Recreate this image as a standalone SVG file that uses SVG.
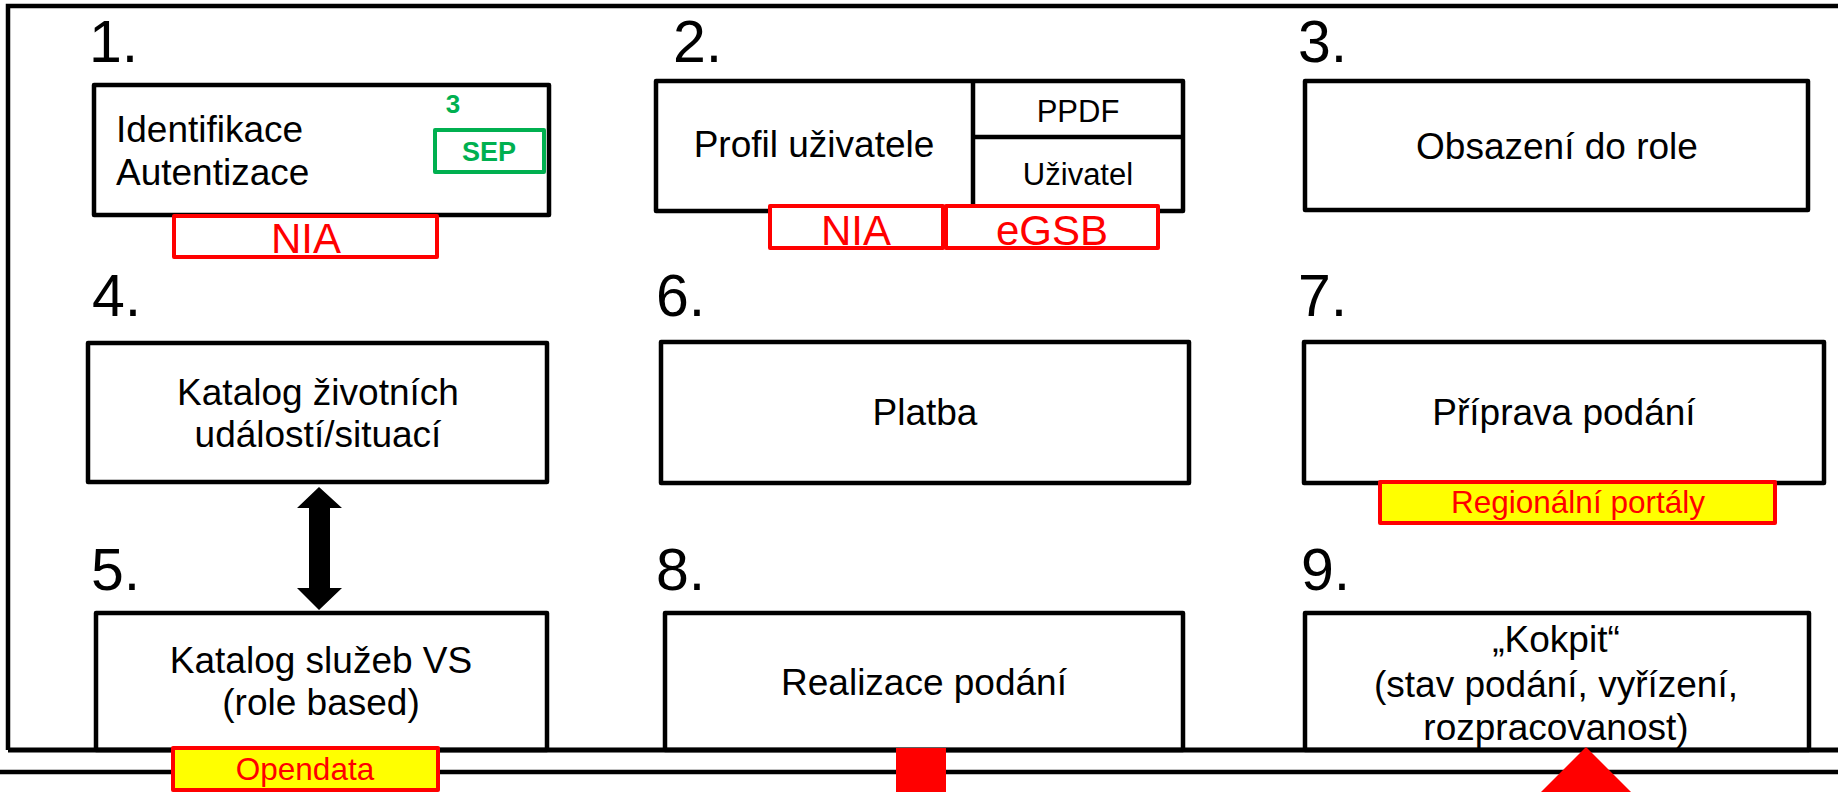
<svg xmlns="http://www.w3.org/2000/svg" width="1838" height="792" viewBox="0 0 1838 792">
<style>
text{font-family:"Liberation Sans",Arial,sans-serif;}
.box{fill:#fff;stroke:#000;stroke-width:4.5;stroke-linejoin:round;}
.ln{fill:none;stroke:#000;stroke-width:4.5;}
.lbl{font-size:37px;fill:#000;text-anchor:middle;}
.num{font-size:59px;fill:#000;}
.sub{font-size:31px;fill:#000;text-anchor:middle;}
.redbox{fill:#fff;stroke:#f00;stroke-width:4;stroke-linejoin:round;}
.yelbox{fill:#ff0;stroke:#f00;stroke-width:4;stroke-linejoin:round;}
.redtxt{font-size:42px;fill:#f00;text-anchor:middle;}
.redsm{font-size:31.5px;fill:#f00;text-anchor:middle;}
.green{fill:#00b050;font-weight:bold;text-anchor:middle;}
</style>
<rect width="1838" height="792" fill="#fff"/>
<g id="frame">
<path class="ln" d="M8,750 L8,6 L1838,6"/>
</g>
<g id="n1">
<text class="num" x="89" y="62">1.</text>
<rect class="box" x="94" y="85" width="455" height="130"/>
<text style="font-size:37px" x="116" y="142">Identifikace</text>
<text style="font-size:37px" x="116" y="185">Autentizace</text>
<text class="green" style="font-size:26px" x="453" y="113">3</text>
<rect x="435" y="130" width="109" height="42" fill="#fff" stroke="#00b050" stroke-width="4" stroke-linejoin="round"/>
<text class="green" style="font-size:27px" x="489" y="161">SEP</text>
<rect class="redbox" x="174" y="216" width="263" height="41"/>
<text class="redtxt" x="306" y="253">NIA</text>
</g>
<g id="n2">
<text class="num" x="673" y="62">2.</text>
<rect class="box" x="656" y="81" width="527" height="130"/>
<path class="ln" d="M973,81 L973,211 M973,137 L1183,137"/>
<text class="lbl" x="814" y="157">Profil uživatele</text>
<text class="sub" x="1078" y="122">PPDF</text>
<text class="sub" x="1078" y="185">Uživatel</text>
<rect class="redbox" x="770" y="206" width="173" height="42"/>
<text class="redtxt" x="856" y="245">NIA</text>
<rect class="redbox" x="946" y="206" width="212" height="42"/>
<text class="redtxt" x="1052" y="245">eGSB</text>
</g>
<g id="n3">
<text class="num" x="1298" y="62">3.</text>
<rect class="box" x="1305" y="81" width="503" height="129"/>
<text class="lbl" x="1557" y="159">Obsazení do role</text>
</g>
<g id="n4">
<text class="num" x="92" y="316">4.</text>
<rect class="box" x="88" y="343" width="459" height="139"/>
<text class="lbl" x="318" y="405">Katalog životních</text>
<text class="lbl" x="318" y="447">událostí/situací</text>
</g>
<g id="n6">
<text class="num" x="656" y="316">6.</text>
<rect class="box" x="661" y="342" width="528" height="141"/>
<text class="lbl" x="925" y="425">Platba</text>
</g>
<g id="n7">
<text class="num" x="1298" y="316">7.</text>
<rect class="box" x="1304" y="342" width="520" height="141"/>
<text class="lbl" x="1564" y="425">Příprava podání</text>
<rect class="yelbox" x="1380" y="482" width="395" height="41"/>
<text class="redsm" x="1578" y="513">Regionální portály</text>
</g>
<g id="n5">
<text class="num" x="91" y="590">5.</text>
<rect class="box" x="96" y="613" width="451" height="137"/>
<text class="lbl" x="321" y="673">Katalog služeb VS</text>
<text class="lbl" x="321" y="715">(role based)</text>
</g>
<g id="n8">
<text class="num" x="656" y="590">8.</text>
<rect class="box" x="665" y="613" width="518" height="137"/>
<text class="lbl" x="924" y="695">Realizace podání</text>
</g>
<g id="n9">
<text class="num" x="1301" y="590">9.</text>
<rect class="box" x="1305" y="613" width="504" height="137"/>
<text class="lbl" x="1556" y="652">„Kokpit“</text>
<text class="lbl" x="1556" y="697">(stav podání, vyřízení,</text>
<text class="lbl" x="1556" y="740">rozpracovanost)</text>
</g>
<g id="bus">
<line x1="8" y1="750" x2="1838" y2="750" stroke="#000" stroke-width="5"/>
<line x1="0" y1="772" x2="1838" y2="772" stroke="#000" stroke-width="4.5"/>
</g>
<g id="connectors">
<polygon points="319,487 342,508 330,508 330,588 342,588 319,610 297,588 309,588 309,508 297,508" fill="#000"/>
</g>
<g id="markers">
<rect class="yelbox" x="173" y="748" width="265" height="42"/>
<text class="redsm" x="305" y="780">Opendata</text>
<rect x="896" y="748" width="50" height="44" fill="#f00"/>
<polygon points="1586,747 1631,792 1541,792" fill="#f00"/>
</g>
</svg>
